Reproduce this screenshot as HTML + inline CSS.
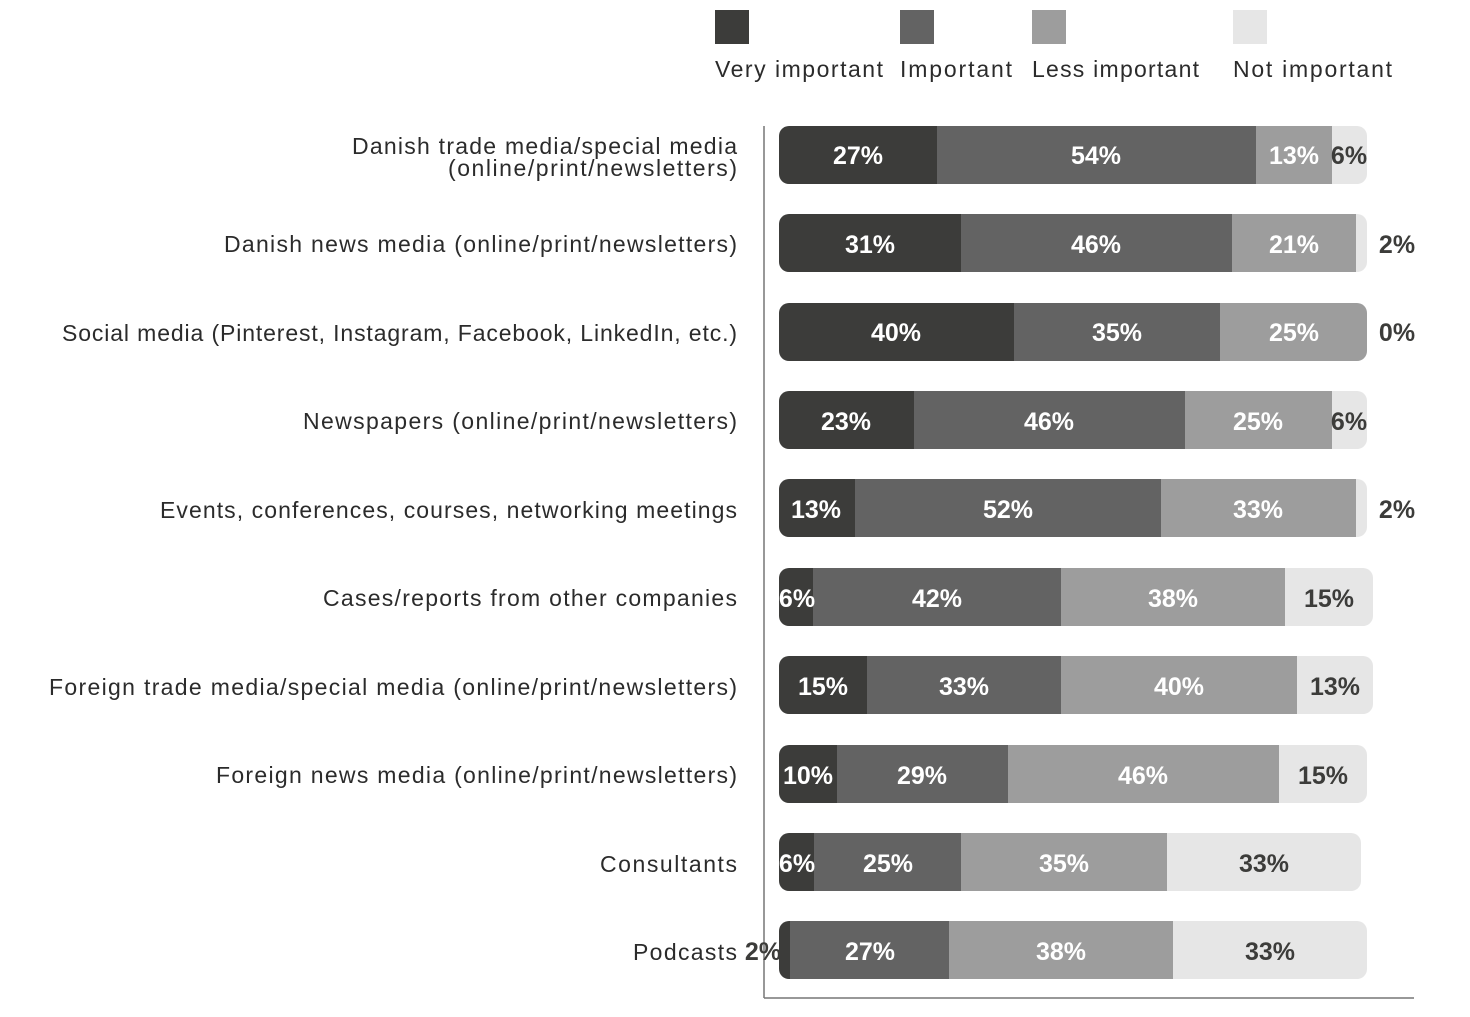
<!DOCTYPE html>
<html><head><meta charset="utf-8"><style>
html,body{margin:0;padding:0;background:#fff;}
svg{display:block;}
.c{font-family:"Liberation Sans",sans-serif;font-size:23px;fill:#2b2b2b;text-anchor:end;}
.l{font-family:"Liberation Sans",sans-serif;font-size:23px;fill:#2b2b2b;}
.v{font-family:"Liberation Sans",sans-serif;font-size:25px;font-weight:bold;text-anchor:middle;}
.w{fill:#fff;} .d{fill:#3c3c3a;}
</style></head><body>
<svg width="1470" height="1017" viewBox="0 0 1470 1017" xmlns="http://www.w3.org/2000/svg">
<rect x="715" y="10" width="34" height="34" fill="#3c3c3a"/>
<rect x="900" y="10" width="34" height="34" fill="#636363"/>
<rect x="1032" y="10" width="34" height="34" fill="#9d9d9d"/>
<rect x="1233" y="10" width="34" height="34" fill="#e6e6e6"/>
<text class="l" x="715" y="77" textLength="168">Very important</text>
<text class="l" x="900" y="77" textLength="112">Important</text>
<text class="l" x="1032" y="77" textLength="167">Less important</text>
<text class="l" x="1233" y="77" textLength="159">Not important</text>

<line x1="764" y1="126" x2="764" y2="998" stroke="#777" stroke-width="1.5"/>
<line x1="764" y1="998" x2="1414" y2="998" stroke="#777" stroke-width="1.5"/>

<defs>
<clipPath id="r1"><rect x="779" y="126" width="588" height="58" rx="10"/></clipPath>
<clipPath id="r2"><rect x="779" y="214" width="588" height="58" rx="10"/></clipPath>
<clipPath id="r3"><rect x="779" y="303" width="588" height="58" rx="10"/></clipPath>
<clipPath id="r4"><rect x="779" y="391" width="588" height="58" rx="10"/></clipPath>
<clipPath id="r5"><rect x="779" y="479" width="588" height="58" rx="10"/></clipPath>
<clipPath id="r6"><rect x="779" y="568" width="594" height="58" rx="10"/></clipPath>
<clipPath id="r7"><rect x="779" y="656" width="594" height="58" rx="10"/></clipPath>
<clipPath id="r8"><rect x="779" y="745" width="588" height="58" rx="10"/></clipPath>
<clipPath id="r9"><rect x="779" y="833" width="582" height="58" rx="10"/></clipPath>
<clipPath id="r10"><rect x="779" y="921" width="588" height="58" rx="10"/></clipPath>
</defs>

<!-- Row 1 -->
<text class="c" x="737" y="154" textLength="385">Danish trade media/special media</text>
<text class="c" x="737" y="176" textLength="289">(online/print/newsletters)</text>
<g clip-path="url(#r1)">
<rect x="779" y="126" width="158" height="58" fill="#3c3c3a"/>
<rect x="937" y="126" width="319" height="58" fill="#636363"/>
<rect x="1256" y="126" width="76" height="58" fill="#9d9d9d"/>
<rect x="1332" y="126" width="35" height="58" fill="#e6e6e6"/>
</g>
<text class="v w" x="858" y="164">27%</text><text class="v w" x="1096" y="164">54%</text>
<text class="v w" x="1294" y="164">13%</text><text class="v d" x="1349" y="164">6%</text>

<!-- Row 2 -->
<text class="c" x="737" y="252" textLength="513">Danish news media (online/print/newsletters)</text>
<g clip-path="url(#r2)">
<rect x="779" y="214" width="182" height="58" fill="#3c3c3a"/>
<rect x="961" y="214" width="271" height="58" fill="#636363"/>
<rect x="1232" y="214" width="124" height="58" fill="#9d9d9d"/>
<rect x="1356" y="214" width="11" height="58" fill="#e6e6e6"/>
</g>
<text class="v w" x="870" y="253">31%</text><text class="v w" x="1096" y="253">46%</text>
<text class="v w" x="1294" y="253">21%</text><text class="v d" x="1397" y="253">2%</text>

<!-- Row 3 -->
<text class="c" x="737" y="341" textLength="675">Social media (Pinterest, Instagram, Facebook, LinkedIn, etc.)</text>
<g clip-path="url(#r3)">
<rect x="779" y="303" width="235" height="58" fill="#3c3c3a"/>
<rect x="1014" y="303" width="206" height="58" fill="#636363"/>
<rect x="1220" y="303" width="147" height="58" fill="#9d9d9d"/>
</g>
<text class="v w" x="896" y="341">40%</text><text class="v w" x="1117" y="341">35%</text>
<text class="v w" x="1294" y="341">25%</text><text class="v d" x="1397" y="341">0%</text>

<!-- Row 4 -->
<text class="c" x="737" y="429" textLength="434">Newspapers (online/print/newsletters)</text>
<g clip-path="url(#r4)">
<rect x="779" y="391" width="135" height="58" fill="#3c3c3a"/>
<rect x="914" y="391" width="271" height="58" fill="#636363"/>
<rect x="1185" y="391" width="147" height="58" fill="#9d9d9d"/>
<rect x="1332" y="391" width="35" height="58" fill="#e6e6e6"/>
</g>
<text class="v w" x="846" y="430">23%</text><text class="v w" x="1049" y="430">46%</text>
<text class="v w" x="1258" y="430">25%</text><text class="v d" x="1349" y="430">6%</text>

<!-- Row 5 -->
<text class="c" x="737" y="518" textLength="577">Events, conferences, courses, networking meetings</text>
<g clip-path="url(#r5)">
<rect x="779" y="479" width="76" height="58" fill="#3c3c3a"/>
<rect x="855" y="479" width="306" height="58" fill="#636363"/>
<rect x="1161" y="479" width="195" height="58" fill="#9d9d9d"/>
<rect x="1356" y="479" width="11" height="58" fill="#e6e6e6"/>
</g>
<text class="v w" x="816" y="518">13%</text><text class="v w" x="1008" y="518">52%</text>
<text class="v w" x="1258" y="518">33%</text><text class="v d" x="1397" y="518">2%</text>

<!-- Row 6 -->
<text class="c" x="737" y="606" textLength="414">Cases/reports from other companies</text>
<g clip-path="url(#r6)">
<rect x="779" y="568" width="34" height="58" fill="#3c3c3a"/>
<rect x="813" y="568" width="248" height="58" fill="#636363"/>
<rect x="1061" y="568" width="224" height="58" fill="#9d9d9d"/>
<rect x="1285" y="568" width="88" height="58" fill="#e6e6e6"/>
</g>
<text class="v w" x="797" y="607">6%</text><text class="v w" x="937" y="607">42%</text>
<text class="v w" x="1173" y="607">38%</text><text class="v d" x="1329" y="607">15%</text>

<!-- Row 7 -->
<text class="c" x="737" y="695" textLength="688">Foreign trade media/special media (online/print/newsletters)</text>
<g clip-path="url(#r7)">
<rect x="779" y="656" width="88" height="58" fill="#3c3c3a"/>
<rect x="867" y="656" width="194" height="58" fill="#636363"/>
<rect x="1061" y="656" width="236" height="58" fill="#9d9d9d"/>
<rect x="1297" y="656" width="76" height="58" fill="#e6e6e6"/>
</g>
<text class="v w" x="823" y="695">15%</text><text class="v w" x="964" y="695">33%</text>
<text class="v w" x="1179" y="695">40%</text><text class="v d" x="1335" y="695">13%</text>

<!-- Row 8 -->
<text class="c" x="737" y="783" textLength="521">Foreign news media (online/print/newsletters)</text>
<g clip-path="url(#r8)">
<rect x="779" y="745" width="58" height="58" fill="#3c3c3a"/>
<rect x="837" y="745" width="171" height="58" fill="#636363"/>
<rect x="1008" y="745" width="271" height="58" fill="#9d9d9d"/>
<rect x="1279" y="745" width="88" height="58" fill="#e6e6e6"/>
</g>
<text class="v w" x="808" y="784">10%</text><text class="v w" x="922" y="784">29%</text>
<text class="v w" x="1143" y="784">46%</text><text class="v d" x="1323" y="784">15%</text>

<!-- Row 9 -->
<text class="c" x="737" y="872" textLength="137">Consultants</text>
<g clip-path="url(#r9)">
<rect x="779" y="833" width="35" height="58" fill="#3c3c3a"/>
<rect x="814" y="833" width="147" height="58" fill="#636363"/>
<rect x="961" y="833" width="206" height="58" fill="#9d9d9d"/>
<rect x="1167" y="833" width="194" height="58" fill="#e6e6e6"/>
</g>
<text class="v w" x="797" y="872">6%</text><text class="v w" x="888" y="872">25%</text>
<text class="v w" x="1064" y="872">35%</text><text class="v d" x="1264" y="872">33%</text>

<!-- Row 10 -->
<text class="c" x="737" y="960" textLength="104">Podcasts</text>
<g clip-path="url(#r10)">
<rect x="779" y="921" width="11" height="58" fill="#3c3c3a"/>
<rect x="790" y="921" width="159" height="58" fill="#636363"/>
<rect x="949" y="921" width="224" height="58" fill="#9d9d9d"/>
<rect x="1173" y="921" width="194" height="58" fill="#e6e6e6"/>
</g>
<text class="v d" x="763" y="960">2%</text><text class="v w" x="870" y="960">27%</text>
<text class="v w" x="1061" y="960">38%</text><text class="v d" x="1270" y="960">33%</text>
</svg>
</body></html>
